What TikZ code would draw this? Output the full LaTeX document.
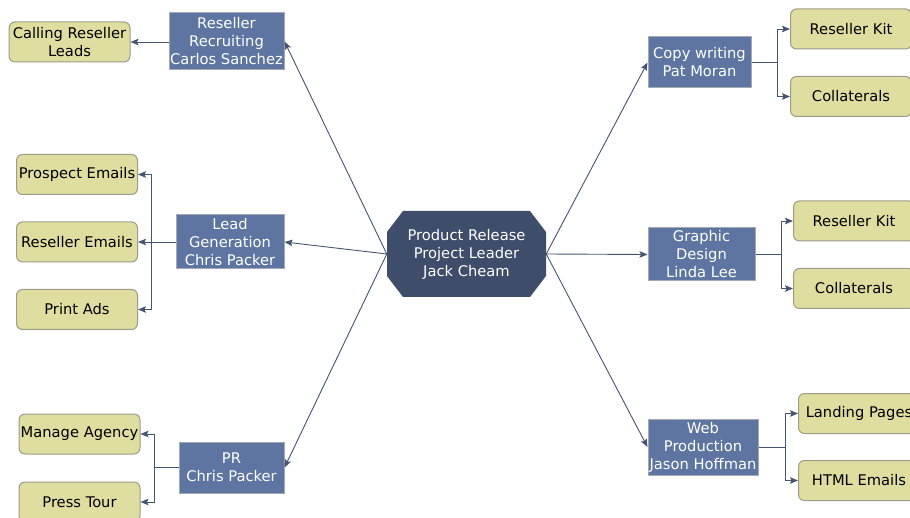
\documentclass[tikz,border=0pt]{standalone}
\usepackage{fontspec}
\setmainfont{DejaVu Sans}
\usetikzlibrary{arrows.meta}
\definecolor{lineC}{HTML}{46556F}
\definecolor{blueF}{HTML}{5D75A0}
\definecolor{darkF}{HTML}{3E4D69}
\definecolor{yelF}{HTML}{E0DDA0}
\definecolor{blueB}{HTML}{A3A8B2}
\definecolor{yelB}{HTML}{9C9C88}
\begin{document}
\begin{tikzpicture}[x=1pt,y=-1pt,
  txt/.style={font=\fontsize{14.7}{18}\selectfont, align=center, inner sep=0pt},
  bluebox/.style={txt, draw=blueB, line width=1pt, fill=blueF, text=white},
  yelbox/.style={txt, draw=yelB, line width=1pt, fill=yelF, text=black, rounded corners=6pt, minimum width=121pt, minimum height=40pt},
  conn/.style={draw=lineC, line width=0.9pt, -{Stealth[length=8pt,width=6.5pt,inset=1.5pt]}},
  plain/.style={draw=lineC, line width=0.9pt}]
\clip (0,0) rectangle (910,518);
\fill[white] (0,0) rectangle (910,518);
% central octagon
\fill[darkF] (403,211) -- (530,211) -- (546,232) -- (546,276) -- (530,297) -- (403,297) -- (387,276) -- (387,232) -- cycle;
\node[txt, text=white, minimum width=159pt, minimum height=86pt] (c) at (466.5,254) {Product Release\\Project Leader\\Jack Cheam};
% blue boxes
\node[bluebox, minimum width=115pt, minimum height=57pt] (rr) at (226.5,41.5) {Reseller\\Recruiting\\Carlos Sanchez};
\node[bluebox, minimum width=108pt, minimum height=54pt] (lg) at (230,242) {Lead\\Generation\\Chris Packer};
\node[bluebox, minimum width=105pt, minimum height=51pt] (pr) at (231.5,467.5) {PR\\Chris Packer};
\node[bluebox, minimum width=103pt, minimum height=51pt] (cw) at (699.5,62.5) {Copy writing\\Pat Moran};
\node[bluebox, minimum width=107pt, minimum height=53pt] (gd) at (701.5,254.5) {Graphic\\Design\\Linda Lee};
\node[bluebox, minimum width=110pt, minimum height=56pt] (wp) at (703,447) {Web\\Production\\Jason Hoffman};
% yellow boxes
\node[yelbox] (cl) at (69.5,42) {Calling Reseller\\Leads};
\node[yelbox] (pe) at (77,174.5) {Prospect Emails};
\node[yelbox] (re) at (77,242) {Reseller Emails};
\node[yelbox] (pa) at (77,309.5) {Print Ads};
\node[yelbox] (ma) at (79.5,434) {Manage Agency};
\node[yelbox] (pt) at (79.5,502) {Press Tour};
\node[yelbox] (rk1) at (851,29) {Reseller Kit};
\node[yelbox] (co1) at (851,96.5) {Collaterals};
\node[yelbox] (rk2) at (854,221) {Reseller Kit};
\node[yelbox] (co2) at (854,288.5) {Collaterals};
\node[yelbox] (lp) at (859,413.5) {Landing Pages};
\node[yelbox] (he) at (859,480.5) {HTML Emails};
% center to blue
\draw[conn] (c.west) -- (rr.east);
\draw[conn] (c.west) -- (lg.east);
\draw[conn] (c.west) -- (pr.east);
\draw[conn] (c.east) -- (cw.west);
\draw[conn] (c.east) -- (gd.west);
\draw[conn] (c.east) -- (wp.west);
% left branches
\draw[conn] (rr.west |- cl.east) -- (cl.east);
\coordinate (lgb) at (151,242);
\draw[conn] (lg.west) -- (re.east);
\draw[conn] (lgb) |- (pe.east);
\draw[conn] (lgb) |- (pa.east);
\coordinate (prb) at (154,467.5);
\draw[plain] (pr.west) -- (prb);
\draw[conn] (prb) |- (ma.east);
\draw[conn] (prb) |- (pt.east);
% right branches
\coordinate (cwb) at (777,62.5);
\draw[plain] (cw.east) -- (cwb);
\draw[conn] (cwb) |- (rk1.west);
\draw[conn] (cwb) |- (co1.west);
\coordinate (gdb) at (781,254.5);
\draw[plain] (gd.east) -- (gdb);
\draw[conn] (gdb) |- (rk2.west);
\draw[conn] (gdb) |- (co2.west);
\coordinate (wpb) at (785,447);
\draw[plain] (wp.east) -- (wpb);
\draw[conn] (wpb) |- (lp.west);
\draw[conn] (wpb) |- (he.west);
\end{tikzpicture}
\end{document}
